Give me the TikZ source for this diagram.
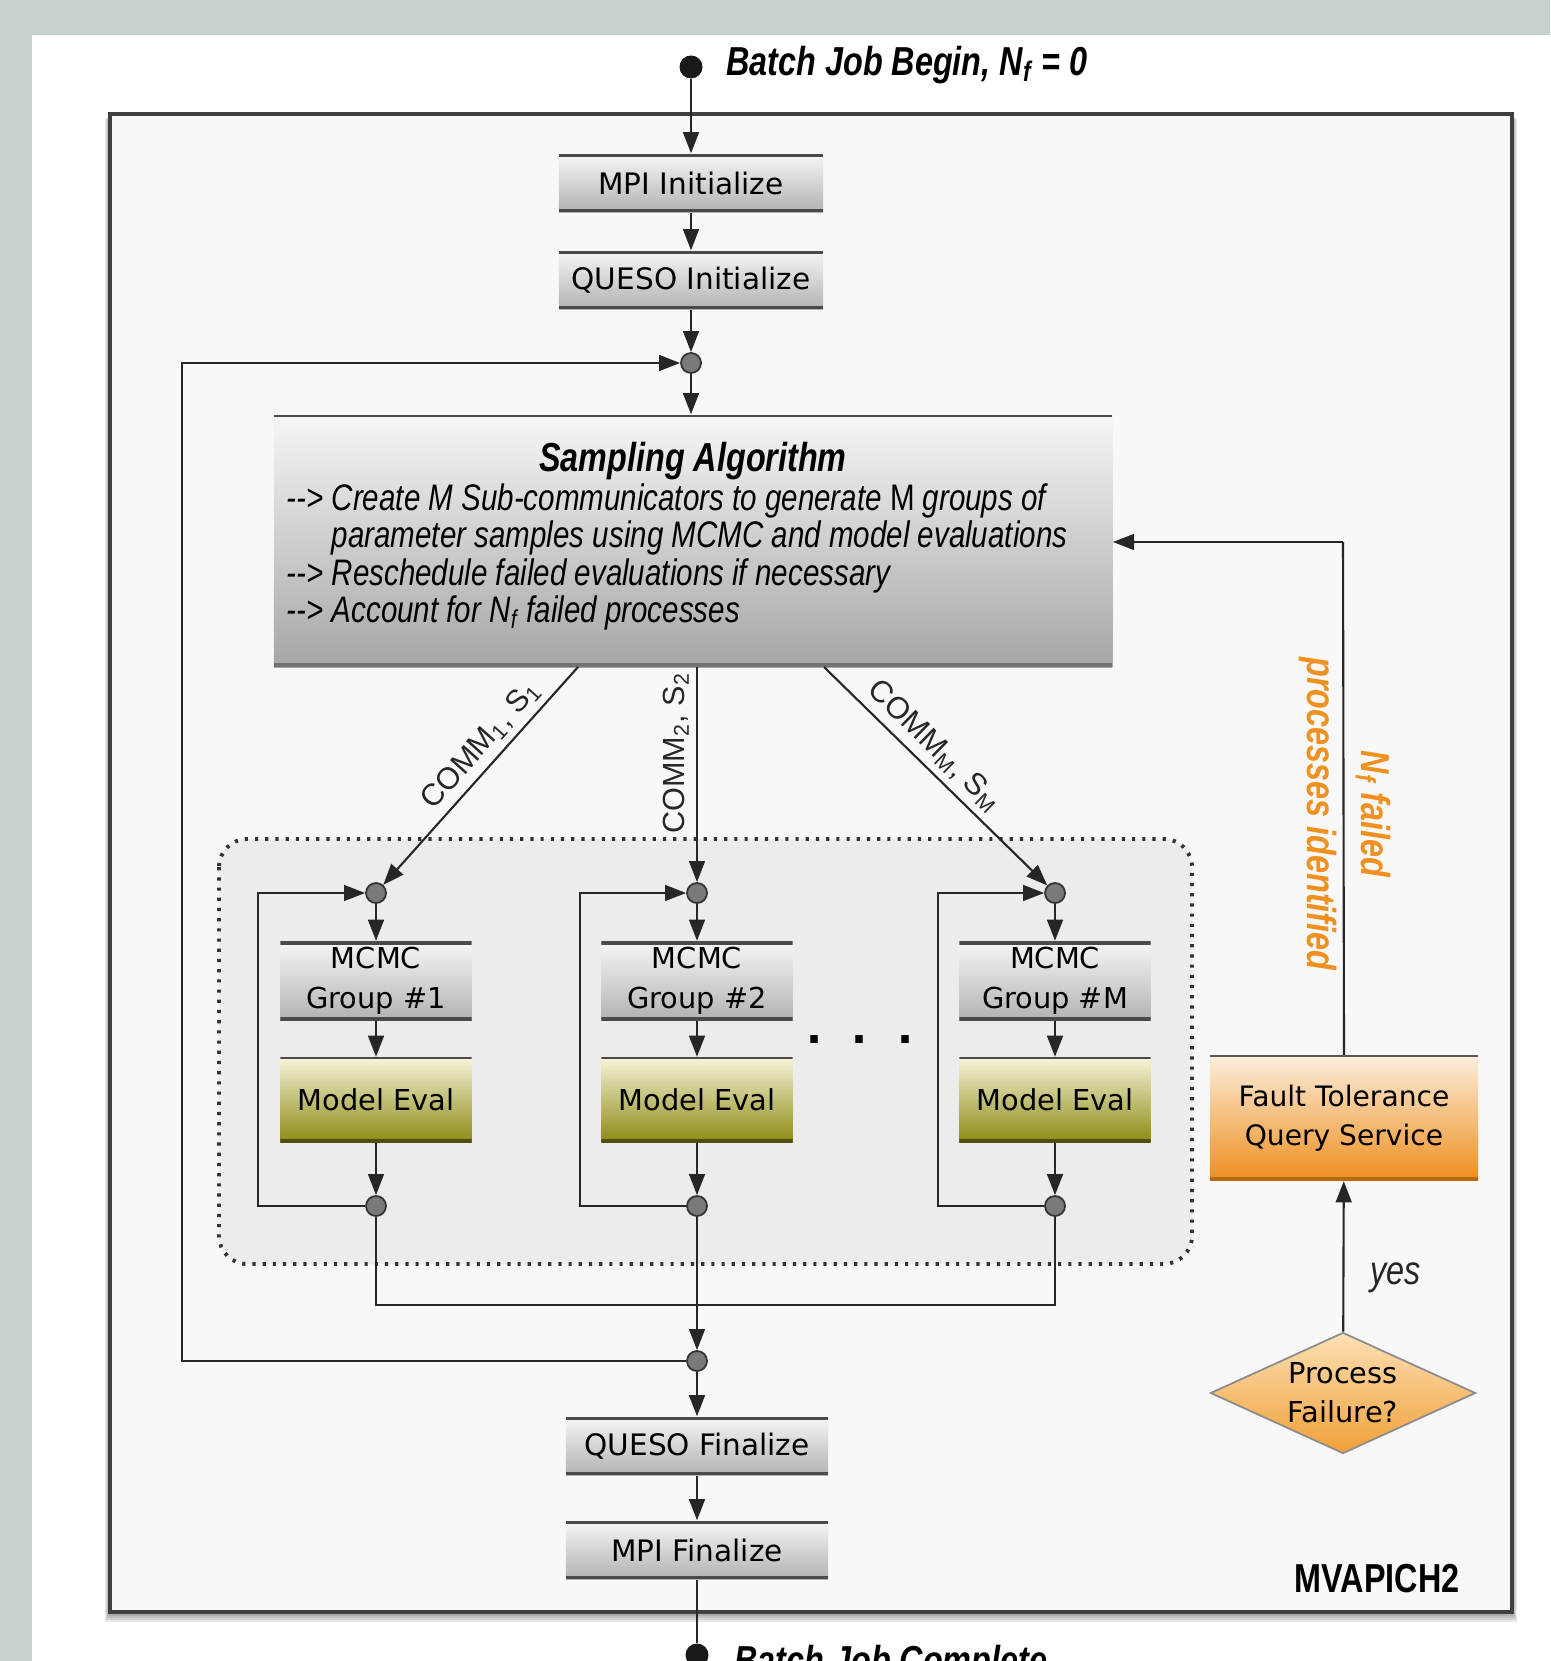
\documentclass[tikz,border=0pt]{standalone}
\usepackage{fontspec}
\setmainfont{DejaVu Sans}
\newfontfamily\narrowfont[FakeStretch=0.8]{Liberation Sans}
\newfontfamily\commfont{Liberation Sans}
\usetikzlibrary{arrows.meta, shapes.geometric}

\definecolor{pagebg}{HTML}{C6D2CD}
\definecolor{framefill}{HTML}{F8F8F8}
\definecolor{groupfill}{HTML}{ECECEC}
\definecolor{boxtop}{HTML}{F6F6F6}
\definecolor{boxbot}{HTML}{B2B2B2}
\definecolor{bardark}{HTML}{4A4A4A}
\definecolor{sampbot}{HTML}{A6A6A6}
\definecolor{evaltop}{HTML}{F6F4D8}
\definecolor{evalbot}{HTML}{8C8A12}
\definecolor{evalbar}{HTML}{4E4E10}
\definecolor{ftqtop}{HTML}{FCEEDC}
\definecolor{ftqmid}{HTML}{F6C07A}
\definecolor{ftqbot}{HTML}{EE8E1E}
\definecolor{ftqbar}{HTML}{B8680F}
\definecolor{failtop}{HTML}{FCE0B4}
\definecolor{failbot}{HTML}{F0A038}
\definecolor{ftorange}{HTML}{F0901E}
\definecolor{dotgrey}{HTML}{7A7A7A}

\tikzset{
  arr/.style={-{Triangle[length=6pt,width=4.5pt]}, line width=0.6pt, black!85},
  wire/.style={line width=0.6pt, black!85},
  bars/.style n args={4}{path picture={
      \fill[#1] (path picture bounding box.north west) rectangle ([yshift=-#2]path picture bounding box.north east);
      \fill[#3] (path picture bounding box.south west) rectangle ([yshift=#4]path picture bounding box.south east);}},
  procbox/.style={rectangle, inner sep=0pt, minimum width=2.64cm, minimum height=0.58cm,
      top color=boxtop, bottom color=boxbot, bars={bardark}{0.9pt}{bardark}{0.9pt},
      font=\fontsize{8.4}{10}\selectfont},
  mcmcbox/.style={procbox, minimum width=1.91cm, minimum height=0.79cm, align=center,
      font=\fontsize{8.2}{11.3}\selectfont},
  evalbox/.style={rectangle, inner sep=0pt, minimum width=1.91cm, minimum height=0.85cm,
      top color=evaltop, bottom color=evalbot, bars={bardark}{0.5pt}{evalbar}{1pt},
      font=\fontsize{8.2}{10}\selectfont},
  ftqbox/.style={rectangle, inner sep=0pt, minimum width=2.68cm, minimum height=1.25cm, align=center,
      top color=ftqtop, middle color=ftqmid, bottom color=ftqbot, bars={black!65}{0.5pt}{ftqbar}{0.9pt},
      font=\fontsize{8}{11.2}\selectfont},
  decision/.style={diamond, aspect=2.2, inner sep=0pt, minimum width=2.65cm, minimum height=1.21cm,
      align=center, top color=failtop, bottom color=failbot, draw=black!45, line width=0.5pt,
      font=\fontsize{8.2}{11}\selectfont},
  joint/.style={circle, inner sep=0pt, minimum size=0.2cm, fill=dotgrey, draw=black!80, line width=0.5pt},
  termdot/.style={circle, inner sep=0pt, minimum size=0.23cm, fill=black!90},
  grouparea/.style={fill=groupfill, draw=black!80, line width=1.1pt, dash pattern=on 0.9pt off 2pt, rounded corners=8pt},
  captxt/.style={font=\narrowfont\fontsize{11.5}{13}\selectfont\bfseries\itshape},
  commtxt/.style={font=\commfont\fontsize{8.7}{10}\selectfont, inner sep=2pt},
}

\begin{document}
\begin{tikzpicture}[x=0.01cm, y=-0.01cm]
\useasboundingbox (0,0) rectangle (1550,1661);
% page and frame
\fill[pagebg] (0,0) rectangle (1550,1661);
\fill[white] (32,35) rectangle (1550,1661);
\foreach \s in {1,...,5}
  \fill[black, opacity=0.09] ({110-\s},{114+\s}) rectangle ({1512+\s},{1612+2*\s});
\fill[framefill] (110,114) rectangle (1512,1612);
\draw[line width=1.3pt, black!75] (110,114) rectangle (1512,1612);
\draw[grouparea] (219,839) rectangle (1192,1264);

% start
\node[termdot] (start) at (691,67) {};
\node[captxt, anchor=west] (begintxt) at (714,65) {Batch Job Begin, N\textsubscript{f} = 0};

% init chain
\node[procbox] (mpiinit) at (691,183) {MPI Initialize};
\node[procbox] (quesoinit) at (691,280) {QUESO Initialize};
\node[joint] (topjoin) at (691,363) {};

% sampling algorithm
\node[rectangle, inner sep=0pt, minimum width=8.38cm, minimum height=2.52cm,
  top color=boxtop, bottom color=sampbot, bars={bardark}{0.6pt}{black!55}{1.2pt}] (sampling) at (693,541) {};
\node[captxt] (samptitle) at (693,461) {Sampling Algorithm};
\node[anchor=north west, inner sep=0pt, align=left,
  font=\narrowfont\fontsize{10.5}{10.6}\selectfont\itshape] (sampbody) at (286,483)
  {-{}-> Create M Sub-communicators to generate \textup{M} groups of\\
   \phantom{-{}-> }parameter samples using MCMC and model evaluations\\
   -{}-> Reschedule failed evaluations if necessary\\
   -{}-> Account for N\textsubscript{f} failed processes};
\coordinate (s1) at (578,667);
\coordinate (s2) at (697,667);
\coordinate (sM) at (824,667);

% groups
\node[joint] (g1top) at (376,893) {};
\node[joint] (g2top) at (697,893) {};
\node[joint] (gMtop) at (1055,893) {};
\node[mcmcbox] (g1mcmc) at (376,981) {MCMC\\Group \#1};
\node[mcmcbox] (g2mcmc) at (697,981) {MCMC\\Group \#2};
\node[mcmcbox] (gMmcmc) at (1055,981) {MCMC\\Group \#M};
\node[evalbox] (g1eval) at (376,1100) {Model Eval};
\node[evalbox] (g2eval) at (697,1100) {Model Eval};
\node[evalbox] (gMeval) at (1055,1100) {Model Eval};
\node[joint] (g1bot) at (376,1206) {};
\node[joint] (g2bot) at (697,1206) {};
\node[joint] (gMbot) at (1055,1206) {};
\node[font=\bfseries\fontsize{12}{12}\selectfont] (more) at (860,1040) {.\ \ .\ \ .};
\coordinate (g1loop) at (258,1206);
\coordinate (g2loop) at (580,1206);
\coordinate (gMloop) at (938,1206);
\coordinate (m1) at (376,1305);
\coordinate (mM) at (1055,1305);

% finalize chain
\node[joint] (botjoin) at (697,1361) {};
\coordinate (mainloop) at (182,1361);
\node[procbox, minimum width=2.62cm] (quesofin) at (697,1446) {QUESO Finalize};
\node[procbox, minimum width=2.62cm] (mpifin) at (697,1550) {MPI Finalize};
\node[termdot] (stop) at (697,1655) {};
\node[captxt, anchor=west] (endtxt) at (722,1664) {Batch Job Complete};
\node[font=\narrowfont\fontsize{11.5}{13}\selectfont\bfseries] (mvapich) at (1377,1579) {MVAPICH2};

% fault tolerance
\node[ftqbox] (ftq) at (1344,1118) {Fault Tolerance\\Query Service};
\node[decision] (fail) at (1343,1393) {Process\\Failure?};
\coordinate (ftup) at (1343,542);
\node[captxt, rotate=-90, align=center, text=ftorange,
  font=\narrowfont\fontsize{11.5}{15.6}\selectfont\bfseries\itshape] (ftnote) at (1345,814)
  {N\textsubscript{f} failed\\processes identified};

% connectors
\draw[arr] (start) -- (mpiinit);
\draw[arr] (mpiinit) -- (quesoinit);
\draw[arr] (quesoinit) -- (topjoin);
\draw[arr] (topjoin) -- (topjoin |- sampling.north);
\draw[arr] (s1) -- (g1top) node[pos=0.42, sloped, above, commtxt] {COMM\textsubscript{1}, S\textsubscript{1}};
\draw[arr] (s2) -- (g2top) node[pos=0.4, rotate=90, anchor=south, commtxt] {COMM\textsubscript{2}, S\textsubscript{2}};
\draw[arr] (sM) -- (gMtop) node[pos=0.43, sloped, above, commtxt] {COMM\textsubscript{M}, S\textsubscript{M}};

\draw[arr] (g1top) -- (g1mcmc);
\draw[arr] (g1mcmc) -- (g1eval);
\draw[arr] (g1eval) -- (g1bot);
\draw[arr] (g1bot) -- (g1loop) |- (g1top);
\draw[arr] (g2top) -- (g2mcmc);
\draw[arr] (g2mcmc) -- (g2eval);
\draw[arr] (g2eval) -- (g2bot);
\draw[arr] (g2bot) -- (g2loop) |- (g2top);
\draw[arr] (gMtop) -- (gMmcmc);
\draw[arr] (gMmcmc) -- (gMeval);
\draw[arr] (gMeval) -- (gMbot);
\draw[arr] (gMbot) -- (gMloop) |- (gMtop);

\draw[wire] (g1bot) -- (m1) -- (mM) -- (gMbot);
\draw[arr] (g2bot) -- (botjoin);
\draw[arr] (botjoin) -- (mainloop) |- (topjoin);
\draw[arr] (botjoin) -- (quesofin);
\draw[arr] (quesofin) -- (mpifin);
\draw[wire] (mpifin) -- (stop);

\draw[wire] (ftq.north) -- (ftup);
\draw[arr] (ftup) -- (sampling.east |- ftup);
\draw[arr] (fail) -- (ftq) node[pos=0.36, right, xshift=4pt, captxt, font=\narrowfont\fontsize{11.5}{13}\selectfont\itshape] {yes};
\end{tikzpicture}
\end{document}
